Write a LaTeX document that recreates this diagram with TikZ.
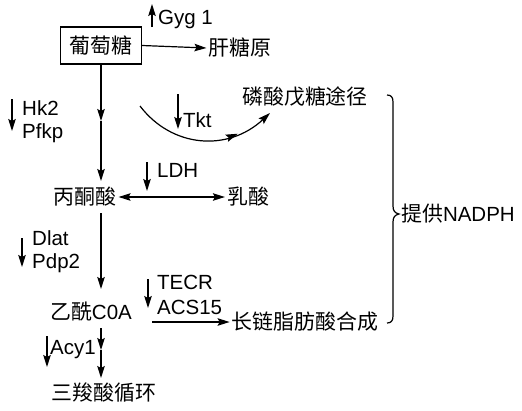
\documentclass[tikz,border=0pt]{standalone}
\usepackage{fontspec}
\setmainfont{Liberation Sans}
\newfontfamily\cjk{Noto Sans CJK SC}[Scale=1.02]
\usetikzlibrary{arrows.meta,decorations.markings}
\begin{document}
\begin{tikzpicture}[x=1pt,y=-1pt,
  every node/.style={font=\fontsize{20.5}{24}\selectfont, inner sep=2pt},
  ln/.style={line width=1.2pt},
  tip/.style={-{Stealth[length=12pt,width=7.5pt,inset=2pt]}},
  dtip/.style={{Stealth[length=12pt,width=7.5pt,inset=2pt]}-{Stealth[length=12pt,width=7.5pt,inset=2pt]}},
  lab/.style={anchor=west}]
\useasboundingbox (0,0) rectangle (522,410);
% nodes
\node[draw, ln, minimum width=81pt, minimum height=37pt, inner sep=0pt] (glc) at (101,45.5) {\cjk 葡萄糖};
\node (gan) at (240,48) {\cjk 肝糖原};
\node[lab] (gyg) at (156,19) {Gyg 1};
\coordinate (gygA) at (152,27);
\coordinate (gygB) at (152,4);
\node (ppp) at (305,97) {\cjk 磷酸戊糖途径};
\node (pyr) at (85,197) {\cjk 丙酮酸};
\node (lac) at (248,197) {\cjk 乳酸};
\node (aca) at (91,312) {{\cjk 乙酰}C0A};
\node (fa) at (305,322) {\cjk 长链脂肪酸合成};
\node (tca) at (104,393) {\cjk 三羧酸循环};
\node[lab] (nadph) at (399,214) {{\cjk 提供}NADPH};
% enzyme labels
\node[lab] (hk) at (20,108) {Hk2};
\node[lab] (pf) at (20,133) {Pfkp};
\coordinate (hkA) at (12,99); \coordinate (hkB) at (12,131);
\node[lab] (tkt) at (181,120) {Tkt};
\coordinate (tkA) at (178,94); \coordinate (tkB) at (178,129);
\node[lab] (ldh) at (155,170) {LDH};
\coordinate (ldA) at (147,162); \coordinate (ldB) at (147,191);
\node[lab] (dlat) at (30,238) {Dlat};
\node[lab] (pdp) at (30,263) {Pdp2};
\coordinate (dlA) at (22,238); \coordinate (dlB) at (22,267);
\node[lab] (tecr) at (155,282) {TECR};
\node[lab] (acs) at (155,307) {ACS15};
\coordinate (teA) at (148,279); \coordinate (teB) at (148,308);
\node[lab] (acy) at (48,350) {Acy1};
\coordinate (acA) at (47,336); \coordinate (acB) at (47,367);
% connectors
\draw[ln,tip] (gygA) -- (gygB);
\draw[ln,tip] (glc.east) -- (gan.west);
\coordinate (m1) at (glc.south |- 0,121);
\coordinate (p1) at (glc.south |- 0,181);
\draw[ln,tip] (glc.south) -- (m1);
\draw[ln,tip] (m1) -- (p1);
\draw[ln,tip] (hkA) -- (hkB);
\coordinate (cs) at (140,106);
\coordinate (ce) at (270,113);
\draw[ln,tip,postaction={decorate,decoration={markings,mark=at position 0.74 with {\arrow{Stealth[length=12pt,width=7.5pt,inset=2pt]}}}}]
  (cs) .. controls (172,148) and (228,152) .. (ce);
\draw[ln,tip] (tkA) -- (tkB);
\draw[ln,tip] (ldA) -- (ldB);
\draw[ln,dtip] (pyr.east) -- (lac.west);
\coordinate (p2) at (glc.south |- 0,213);
\coordinate (p3) at (glc.south |- 0,289);
\draw[ln,tip] (p2) -- (p3);
\draw[ln,tip] (dlA) -- (dlB);
\draw[ln,tip] (teA) -- (teB);
\coordinate (f1) at (152,322);
\draw[ln,tip] (f1) -- (fa.west);
\coordinate (p4) at (glc.south |- 0,328);
\coordinate (p5) at (glc.south |- 0,350);
\coordinate (p6) at (glc.south |- 0,378);
\draw[ln,tip] (p4) -- (p5);
\draw[ln,tip] (p5) -- (p6);
\draw[ln,tip] (acA) -- (acB);
% brace
\draw[line width=1.2pt]
  (387,95) .. controls (391,95) and (393,97) .. (393,102)
  -- (393,206) .. controls (393,211) and (395,213) .. (399,214)
  .. controls (395,215) and (393,217) .. (393,222)
  -- (393,316) .. controls (393,321) and (391,323) .. (387,323);
\end{tikzpicture}
\end{document}
